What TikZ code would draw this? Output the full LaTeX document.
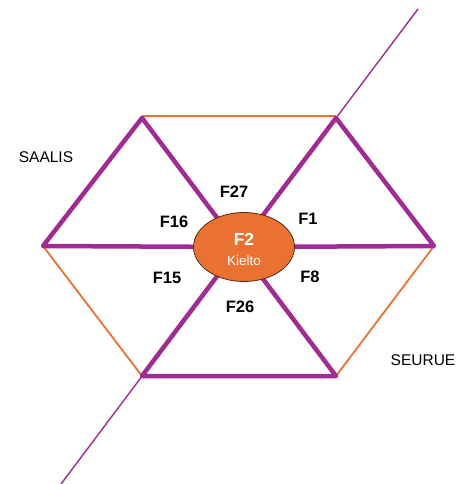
\documentclass[tikz,border=0pt]{standalone}
\usepackage{fontspec}
\setmainfont{Liberation Sans}
\usetikzlibrary{shapes.geometric}
\definecolor{lila}{HTML}{A02B93}
\definecolor{oranssi}{HTML}{E97132}
\definecolor{reuna}{HTML}{5A2A10}
\tikzset{
  kolmio/.style={line width=4.5pt,lila,line cap=round,line join=round},
  reunaviiva/.style={line width=1.8pt,oranssi},
  lavistaja/.style={line width=1.4pt,lila},
  flabel/.style={font=\fontsize{16.5}{18}\selectfont\bfseries},
  suunta/.style={font=\fontsize{15.5}{17}\selectfont}
}
\begin{document}
\begin{tikzpicture}[x=1pt,y=-1pt]
    \useasboundingbox (0,0) rectangle (459,484);

    % Hexagon corners and centre
    \coordinate (tl) at (142,118);
    \coordinate (tr) at (336,118);
    \coordinate (r) at (434,246);
    \coordinate (br) at (336,376);
    \coordinate (bl) at (142,376);
    \coordinate (l) at (43,246);
    \coordinate (c) at (239,247);
    \coordinate (otl) at (142,116);
    \coordinate (otr) at (336,116);
    \coordinate (diagtop) at (418,9);
    \coordinate (diagbot) at (61,484);

    % Diagonal through the picture
    \draw[lavistaja] (diagtop) -- (diagbot);

    % Orange edges
    \draw[reunaviiva] (otl) -- (otr);
    \draw[reunaviiva] (r) -- (br);
    \draw[reunaviiva] (bl) -- (l);

    % Purple triangles
    \draw[kolmio] (c) -- (tl) -- (l) -- (c);
    \draw[kolmio] (c) -- (tr) -- (r) -- (c);
    \draw[kolmio] (c) -- (bl) -- (br) -- (c);

    % Centre ellipse
    \node[ellipse,draw=reuna,line width=0.8pt,fill=oranssi,minimum width=101pt,minimum height=69pt,inner sep=0pt] (f2) at (244,247) {};
    \node[font=\fontsize{17.5}{19}\selectfont\bfseries,text=white] (f2nimi) at (244,239) {F2};
    \node[font=\fontsize{13.5}{15}\selectfont,text=white] (kielto) at (244,261) {Kielto};

    % Field labels
    \node[flabel] (f27) at (234,192) {F27};
    \node[flabel] (f16) at (174,222) {F16};
    \node[flabel] (f1) at (308,219) {F1};
    \node[flabel] (f15) at (167,278) {F15};
    \node[flabel] (f8) at (310,277) {F8};
    \node[flabel] (f26) at (240,307) {F26};

    % Sides
    \node[suunta] (saalis) at (46,157) {SAALIS};
    \node[suunta] (seurue) at (423,360) {SEURUE};
\end{tikzpicture}
\end{document}
